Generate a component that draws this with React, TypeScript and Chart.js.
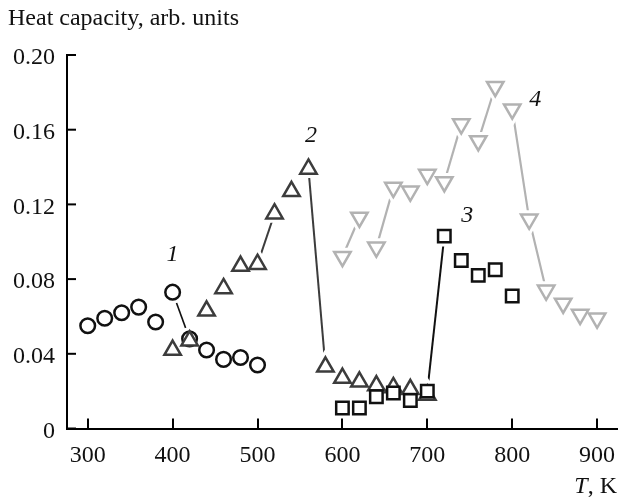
import React, { useEffect, useRef } from 'react';
import { Chart, registerables } from 'chart.js';

Chart.register(...registerables);

// ---- data ----
const xTicks = [300, 400, 500, 600, 700, 800, 900];
const yTicks = [0, 0.04, 0.08, 0.12, 0.16, 0.2];

const t1 = [300, 320, 340, 360, 380, 400, 420, 440, 460, 480, 500];
const c1 = [0.055, 0.059, 0.062, 0.065, 0.057, 0.073, 0.048, 0.042, 0.037, 0.038, 0.034];
const links1 = [400];

const t2 = [400, 420, 440, 460, 480, 500, 520, 540, 560, 580, 600, 620, 640, 660, 680, 700];
const c2 = [0.042, 0.047, 0.063, 0.075, 0.087, 0.088, 0.115, 0.127, 0.139, 0.033, 0.027, 0.025, 0.023, 0.022, 0.021, 0.018];
const links2 = [500, 560];

const t3 = [600, 620, 640, 660, 680, 700, 720, 740, 760, 780, 800];
const c3 = [0.011, 0.011, 0.017, 0.019, 0.015, 0.02, 0.103, 0.09, 0.082, 0.085, 0.071];
const links3 = [700];

const t4 = [600, 620, 640, 660, 680, 700, 720, 740, 760, 780, 800, 820, 840, 860, 880, 900];
const c4 = [0.092, 0.113, 0.097, 0.129, 0.127, 0.136, 0.132, 0.163, 0.154, 0.183, 0.171, 0.112, 0.074, 0.067, 0.061, 0.059];
const links4 = [600, 640, 720, 760, 800, 820];

const curveNames = ['1', '2', '3', '4'];
const curveNameT = [400, 563, 747, 827];
const curveNameV = [0.093, 0.157, 0.114, 0.176];

const yTitle = 'Heat capacity, arb. units';
const xTitleItalic = 'T';
const xTitleRest = ', K';

const SERIF = '"Liberation Serif", "Times New Roman", serif';
const FS = 24;

type Spec = {
  name: string;
  ts: number[];
  vs: number[];
  links: number[];
  color: string;
  style: string;
  radius: number;
  rotation: number;
  z: number;
  lineWidth: number;
};

const specs: Spec[] = [
  { name: '1', ts: t1, vs: c1, links: links1, color: '#111111', style: 'circle', radius: 7.3, rotation: 0, z: 4, lineWidth: 1.6 },
  { name: '2', ts: t2, vs: c2, links: links2, color: '#3c3c3c', style: 'triangle', radius: 9.5, rotation: 0, z: 3, lineWidth: 2 },
  { name: '3', ts: t3, vs: c3, links: links3, color: '#111111', style: 'rect', radius: 8.8, rotation: 0, z: 2, lineWidth: 2 },
  { name: '4', ts: t4, vs: c4, links: links4, color: '#b2b2b2', style: 'triangle', radius: 9.5, rotation: 180, z: 1, lineWidth: 2.2 },
];

function buildDatasets() {
  const out: any[] = [];
  specs.forEach((s) => {
    const data = s.ts.map((t, i) => ({ x: t, y: s.vs[i] }));
    // connecting segments (drawn lowest)
    out.push({
      label: s.name + '-line',
      data,
      showLine: true,
      borderColor: s.color,
      borderWidth: s.lineWidth,
      segment: {
        borderColor: (ctx: any) => (s.links.includes(s.ts[ctx.p0DataIndex]) ? s.color : 'rgba(0,0,0,0)'),
      },
      pointRadius: 0,
      pointHoverRadius: 0,
      order: 100 + s.z,
      fill: false,
      tension: 0,
      clip: false,
    });
    // white halo so lines stop short of markers
    out.push({
      label: s.name + '-halo',
      data,
      showLine: false,
      pointStyle: s.style,
      pointRadius: s.radius,
      pointHoverRadius: s.radius,
      pointRotation: s.rotation,
      pointBorderColor: '#ffffff',
      pointBackgroundColor: '#ffffff',
      pointBorderWidth: 8.5,
      order: 50 + s.z,
      clip: false,
    });
    // markers
    out.push({
      label: s.name,
      data,
      showLine: false,
      pointStyle: s.style,
      pointRadius: s.radius,
      pointHoverRadius: s.radius,
      pointRotation: s.rotation,
      pointBorderColor: s.color,
      pointBackgroundColor: '#ffffff',
      pointBorderWidth: 2.5,
      order: s.z,
      clip: false,
    });
  });
  return out;
}

const decorPlugin = {
  id: 'decor',
  afterDraw(chart: any) {
    const ctx = chart.ctx;
    const xs = chart.scales.x;
    const ys = chart.scales.y;
    const area = chart.chartArea;
    ctx.save();
    // inward ticks
    ctx.strokeStyle = '#000';
    ctx.lineWidth = 2;
    xTicks.forEach((v) => {
      const px = Math.round(xs.getPixelForValue(v));
      ctx.beginPath();
      ctx.moveTo(px, area.bottom);
      ctx.lineTo(px, area.bottom - 10);
      ctx.stroke();
    });
    yTicks.forEach((v) => {
      const py = ys.getPixelForValue(v);
      ctx.beginPath();
      ctx.moveTo(area.left, py);
      ctx.lineTo(area.left + 9, py);
      ctx.stroke();
    });
    // titles
    ctx.fillStyle = '#111';
    ctx.textBaseline = 'alphabetic';
    ctx.textAlign = 'left';
    ctx.font = `${FS}px ${SERIF}`;
    ctx.fillText(yTitle, 8, 25);
    const restW = ctx.measureText(xTitleRest).width;
    ctx.textAlign = 'right';
    ctx.fillText(xTitleRest, 617, 493);
    ctx.font = `italic ${FS}px ${SERIF}`;
    ctx.fillText(xTitleItalic, 617 - restW, 493);
    // curve numbers
    ctx.textAlign = 'center';
    ctx.textBaseline = 'middle';
    curveNames.forEach((n, i) => {
      ctx.fillText(n, xs.getPixelForValue(curveNameT[i]), ys.getPixelForValue(curveNameV[i]));
    });
    ctx.restore();
  },
};

export default function App() {
  const ref = useRef<HTMLCanvasElement | null>(null);
  useEffect(() => {
    if (!ref.current) return;
    const chart = new Chart(ref.current, {
      type: 'scatter',
      data: { datasets: buildDatasets() },
      options: {
        responsive: false,
        devicePixelRatio: 1,
        animation: false,
        layout: { autoPadding: false, padding: { top: 55, left: 0, right: 0, bottom: 0 } },
        plugins: {
          legend: { display: false },
          tooltip: { enabled: false },
          title: { display: false },
        },
        scales: {
          x: {
            type: 'linear',
            min: 275.6,
            max: 924.6,
            grid: { display: false, drawTicks: false },
            border: { display: true, color: '#000', width: 2 },
            ticks: {
              color: '#111',
              font: { family: SERIF, size: FS },
              padding: 13,
              maxRotation: 0,
              autoSkip: false,
            },
            afterBuildTicks: (scale: any) => {
              scale.ticks = xTicks.map((v) => ({ value: v }));
            },
            afterFit: (scale: any) => {
              scale.height = 72.5;
              scale.paddingLeft = 0;
              scale.paddingRight = 0;
            },
          },
          y: {
            type: 'linear',
            min: 0,
            max: 0.2,
            grid: { display: false, drawTicks: false },
            border: { display: true, color: '#000', width: 2 },
            ticks: {
              color: '#111',
              font: { family: SERIF, size: FS },
              padding: 12,
              labelOffset: 3,
              autoSkip: false,
              callback: (v: any) => (Number(v) === 0 ? '0' : Number(v).toFixed(2)),
            },
            afterBuildTicks: (scale: any) => {
              scale.ticks = yTicks.map((v) => ({ value: v }));
            },
            afterFit: (scale: any) => {
              scale.width = 67;
              scale.paddingTop = 0;
              scale.paddingBottom = 0;
            },
          },
        },
      } as any,
      plugins: [decorPlugin],
    });
    return () => chart.destroy();
  }, []);
  return (
    <div style={{ position: 'fixed', left: 0, top: 0, width: 618, height: 501, background: '#fff' }}>
      <canvas ref={ref} width={618} height={501} style={{ display: 'block' }} />
    </div>
  );
}
